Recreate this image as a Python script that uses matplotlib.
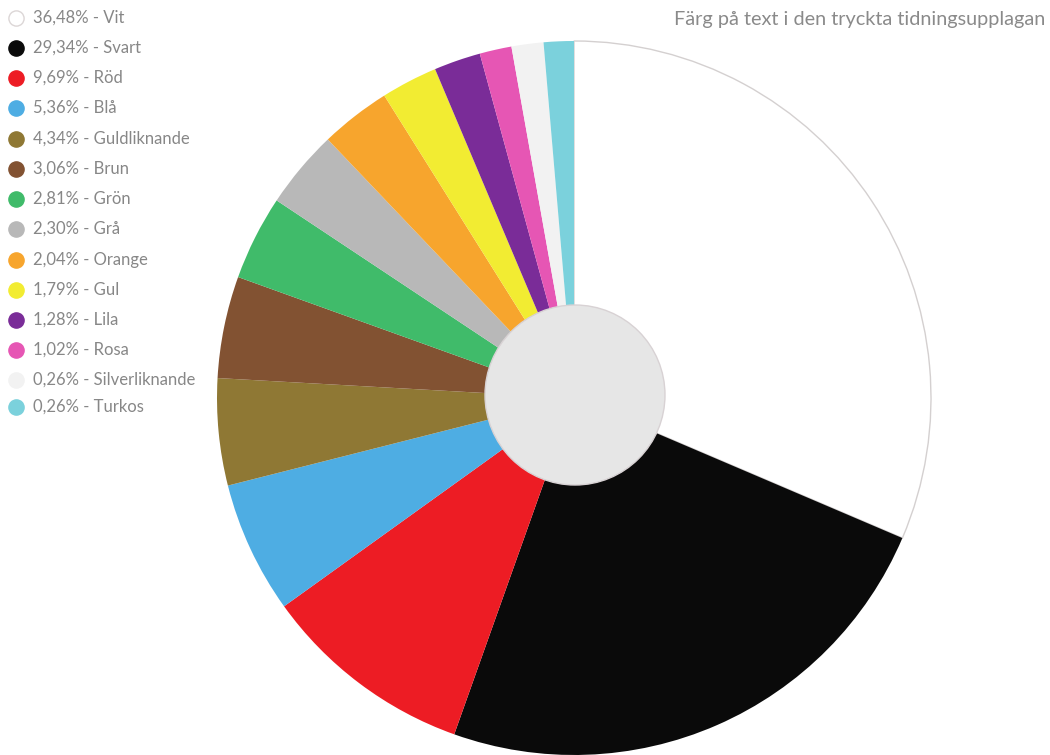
import matplotlib
matplotlib.use("Agg")
import matplotlib.pyplot as plt
from matplotlib.patches import Circle

# ---- data ----
names = ["Vit", "Svart", "Röd", "Blå", "Guldliknande", "Brun", "Grön", "Grå",
         "Orange", "Gul", "Lila", "Rosa", "Silverliknande", "Turkos"]
legend_pct = [36.48, 29.34, 9.69, 5.36, 4.34, 3.06, 2.81, 2.30,
              2.04, 1.79, 1.28, 1.02, 0.26, 0.26]
# slice sizes as drawn in the picture (angular span in degrees)
slice_deg = [113.1, 86.5, 34.7, 21.5, 17.4, 16.6, 13.8, 12.8,
             11.5, 9.2, 7.6, 5.2, 5.2, 4.9]
colors = ["#ffffff", "#0a0a0a", "#ed1c24", "#4eade3", "#8f7834", "#825232",
          "#40bb6a", "#b8b8b8", "#f7a52d", "#f2ec32", "#7a2c98", "#e656b4",
          "#f2f2f2", "#7bd1dc"]
title = "Färg på text i den tryckta tidningsupplagan"

W, H = 1050, 755
plt.rcParams['font.family'] = ['Lato', 'DejaVu Sans']
fig = plt.figure(figsize=(W / 100, H / 100), dpi=100)
ax = fig.add_axes([0, 0, 1, 1])

cx, cy, R = 574, H - 398, 357
wedges, _ = ax.pie(slice_deg, colors=colors, startangle=90, counterclock=False,
                   center=(cx, cy), radius=R,
                   wedgeprops=dict(linewidth=0, antialiased=True))
wedges[0].set_edgecolor("#d4d0d0")
wedges[0].set_linewidth(1.0)
wedges[0].set_zorder(0.5)

ax.add_patch(Circle((575, H - 395), 90, facecolor="#e6e6e6",
                    edgecolor="#d8d2d4", linewidth=1.0, zorder=5))

ax.set_xlim(0, W)
ax.set_ylim(0, H)
ax.set_aspect('equal')
ax.axis('off')

# legend
ys = [18, 48, 78, 108, 139, 169, 199, 229, 260, 290, 320, 350, 380, 407]
for i, (nm, p, c) in enumerate(zip(names, legend_pct, colors)):
    y = H - ys[i]
    ec = "#dcd6d6" if i in (0,) else c
    ax.scatter([16], [y], s=120, color=c, edgecolors=ec, linewidths=1.0, zorder=6)
    lab = f"{p:.2f}".replace('.', ',') + "% - " + nm
    ax.text(33, y, lab, fontsize=12, color="#878787", va='center', ha='left')

ax.text(1045, H - 19, title, fontsize=14.3, color="#8a8a8a", va='center', ha='right')

fig.savefig("out.png", dpi=100)
